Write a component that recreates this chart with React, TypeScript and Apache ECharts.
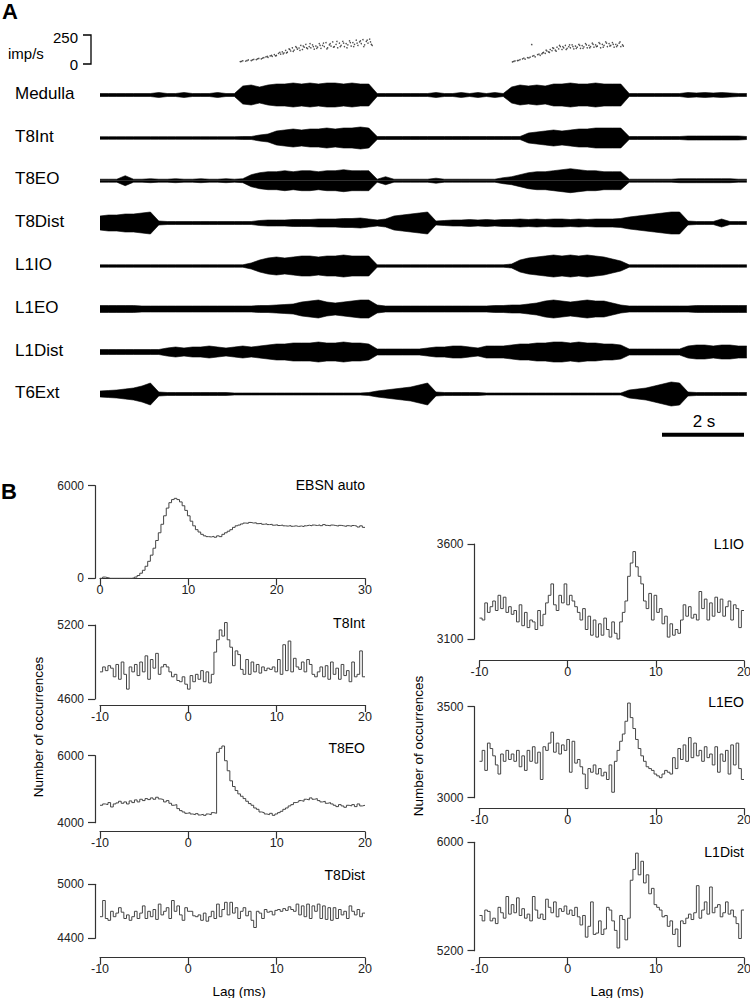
import React, { useEffect, useRef } from "react";
import * as echarts from "echarts";

const FONT = "'Liberation Sans', Arial, Helvetica, sans-serif";

// ---------- Panel A : raw traces (envelope amplitude, sampled every 0.2 s) ----------
const TRACE_STEP_S = 0.2;
const TRACE_NAMES = ["Medulla", "T8Int", "T8EO", "T8Dist", "L1IO", "L1EO", "L1Dist", "T6Ext"];
const MEDULLA = [1.5,1.5,1.5,1.5,1.5,1.5,1.5,2.5,1.5,1.5,2.5,1.5,1.5,1.5,2.5,1.5,1.5, 9,10,8,10,11,11,12,11,12,11,12,12,11,12,11,11, 1.5,1.5,1.5,1.5,1.5,1.5,1.5,2.5,1.5,1.5,2.5,1.5,2.5,1.5,2.5,1.5, 8,10,9,10,9,11,11,12,11,11,12,11,11,11, 1.5,1.5,1.5,1.5,1.5,1.5,1.5,2.5,2,2.5,2,2.5,2,1.5,1.5];
const T8INT = [1.3,1.3,1.3,1.3,1.3,1.3,1.3,1.3,1.3,1.3,1.3,1.3,1.3,1.3,1.3,1.3,1.3, 1.5,1.5,3,4,7,8,9,8,9,9,10,9,10,10,11,10, 1.5,1.5,1.5,1.5,1.5,1.5,1.5,1.5,1.5,1.5,1.5,1.5,1.5,1.5,1.5,1.5,1.5,1.5, 5,6,7,8,7,8,9,9,10,10,10,10, 1.5,1.5,1.5,1.5,1.5,1.5,1.5,2,2,2,2,2,2,2,1.5];
const T8EO = [1.5,1.5,1.5,5,1.5,1.5,2,1.5,1.5,2,1.5,1.5,2,1.5,1.5,2,1.5, 2,6,8,9,9,10,9,10,10,9,10,10,11,10,10,10, 1.5,4,1.5,1.5,1.5,1.5,1.5,2.5,1.5,1.5,1.5,1.5,1.5,1.5,1.5,3, 4,6,8,9,9,10,11,12,11,10,10,9,9,9, 1.5,1.5,1.5,1.5,1.5,1.5,2,2,2,2,2,2,2,1.5,1.5];
const T8DIST = [7,8,8,9,9,10,11,2, 1.5,1.5,1.5,1.5,1.5,1.5,1.5,1.5,1.5,1.5,1.5, 2.5,3,3,3,3.5,3.5,3.5,4,4, 4,4.5,4.5,5,4, 3,4,7,8,9,10,11,2, 2.5,3,3,3.5,3,3.5,3,3.5,3.5,4,3.5,4,3.5,4,4,3.5,4,3.5,4,4,4,4.5, 6,7,8,9,10,11,11,2, 1.5,1.5,1.5,4,1.5,1.5,1.5];
const L1IO = [1.2,1.2,1.2,1.2,1.2,1.2,1.2,1.2,1.2,1.2,1.2,1.2,1.2,1.2,1.2,1.2,1.2,1.2, 3,6,8,9,8,9,10,10,9,10,10,11,10,10,10, 1.2,1.2,1.2,1.2,1.2,1.2,1.2,1.2,1.2,1.2,1.2,1.2,1.2,1.2,1.2,1.2, 2,6,8,9,10,11,10,11,10,11,10,9,7,5, 1.2,1.2,1.2,1.2,1.2,1.2,1.2,1.2,1.2,1.2,1.2,1.2,1.2,1.2,1.2];
const L1EO = [3.5,3.5,3.5,3.5,3.5,3, 3,3,3,3,3,3,3,3,3,3,3,3,3,3.5,3.5, 4,4.5,5,7,8,9,7,6,7,8,9, 9, 4, 3,3,3,3,3,3,3,3,3,3,3,3,3,3.5,3.5,4,4, 5,6,8,9,8,7,8,9,8,8,6, 4, 3,3,3,3,3,3,3,3,3.5,3.5,3.5,3.5,3.5,3.5,3.5];
const L1DIST = [2.5,2.5,2.5,2.5,2.5,2.5,2.5,2.5, 4,5,4,5,5,6,5,4,5,6,5,6, 7,8,8,9,9,9,10,9,9,10,9,9, 8, 3, 3,3,3,3,3,4, 5,5,6,6,5,4,6,6, 6,7,8,8,9,9,10,10,9,10,9,9,8,8, 7, 3, 3,3,3,3,3,3, 6,7,7,6,7,7,6,6];
const T6EXT = [3,3.5,4,5,6,8,11,2, 1.5,1.5,1.5,1.5,1.5,1.5,1.5,1.5, 1,1,1,1,1,1,1,1,1,1,1,1,1,1,1,1, 1.5, 3,4,5,6,7,9,11,2, 1.5,1.5,1.5,1.5,1.5, 1,1,1,1,1,1,1,1,1,1,1,1,1,1,1,1,1, 4,5,6,8,10,12,11,2, 1.5,1.5,1.5,1.5,1.5,1.5,1.5];
const TRACES = [MEDULLA, T8INT, T8EO, T8DIST, L1IO, L1EO, L1DIST, T6EXT];

// Medulla unit instantaneous rate (imp/s): [time s, rate]
const RATE_BURST1 = [[3.34,20],[3.37,22],[3.40,28],[3.47,25],[3.50,30],[3.53,35],[3.60,30],[3.63,35],[3.66,40],[3.72,38],[3.75,44],[3.78,48],[3.84,45],[3.87,50],[3.90,55],[3.95,62],[3.98,65],[4.00,58],[4.05,70],[4.08,75],[4.10,66],[4.15,80],[4.18,70],[4.20,74],[4.25,92],[4.28,100],[4.30,85],[4.34,105],[4.36,88],[4.38,96],[4.42,118],[4.44,95],[4.46,102],[4.50,130],[4.52,125],[4.54,112],[4.58,140],[4.60,108],[4.62,120],[4.66,150],[4.68,142],[4.70,128],[4.74,138],[4.76,118],[4.78,160],[4.82,125],[4.84,155],[4.86,145],[4.90,170],[4.92,140],[4.94,132],[4.98,150],[5.00,175],[5.02,140],[5.06,165],[5.08,150],[5.10,128],[5.14,155],[5.16,135],[5.18,145],[5.22,175],[5.24,160],[5.26,135],[5.30,160],[5.32,180],[5.34,150],[5.38,185],[5.40,130],[5.42,140],[5.46,165],[5.48,175],[5.50,155],[5.54,190],[5.56,145],[5.58,150],[5.62,170],[5.64,195],[5.66,140],[5.70,180],[5.72,150],[5.74,160],[5.78,195],[5.80,180],[5.82,150],[5.86,175],[5.88,140],[5.90,165],[5.94,200],[5.96,185],[5.98,155],[6.02,185],[6.04,150],[6.06,170],[6.10,205],[6.12,180],[6.14,160],[6.18,190],[6.20,200],[6.22,175],[6.26,210],[6.28,150],[6.30,165],[6.34,195],[6.36,205],[6.38,180],[6.42,215],[6.44,190],[6.46,170],[6.48,160]];
const RATE_BURST2 = [[9.82,18],[9.85,22],[9.88,26],[9.94,30],[9.97,32],[10.00,38],[10.06,45],[10.09,50],[10.12,42],[10.18,55],[10.21,52],[10.24,60],[10.28,168],[10.30,68],[10.33,72],[10.36,62],[10.42,80],[10.45,85],[10.48,75],[10.52,88],[10.54,95],[10.56,100],[10.60,92],[10.62,120],[10.64,112],[10.68,105],[10.70,100],[10.72,125],[10.76,115],[10.78,140],[10.80,135],[10.84,120],[10.86,110],[10.88,145],[10.92,130],[10.94,160],[10.96,150],[11.00,125],[11.02,150],[11.04,140],[11.08,160],[11.10,125],[11.12,135],[11.16,150],[11.18,165],[11.20,140],[11.24,165],[11.26,150],[11.28,130],[11.32,155],[11.34,135],[11.36,145],[11.40,170],[11.42,160],[11.44,135],[11.48,158],[11.50,135],[11.52,148],[11.56,175],[11.58,165],[11.60,140],[11.64,160],[11.66,140],[11.68,150],[11.72,180],[11.74,170],[11.76,145],[11.80,165],[11.82,150],[11.84,155],[11.88,185],[11.90,175],[11.92,140],[11.96,170],[11.98,145],[12.00,160],[12.04,190],[12.06,180],[12.08,150],[12.12,175],[12.14,155],[12.16,160],[12.20,185],[12.22,170],[12.24,145],[12.28,170],[12.30,150],[12.32,160],[12.36,180],[12.38,190],[12.40,150],[12.44,165],[12.46,155]];

// ---------- Panel B : correlation histograms (0.3 ms bins) ----------
const HIST_BIN_MS = 0.3;
const EBSN_AUTO = [0,80,40,0,0,0,0,0,0,0,0,0,30,80,180,330,520,780,1100,1500,1950,2450,2950,3500,4050,4550,4900,5100,5180,5100,4950,4700,4400,4050,3700,3400,3150,3000,2850,2750,2700,2680,2720,2660,2750,2700,2850,2950,3050,3150,3300,3400,3450,3520,3580,3560,3620,3580,3600,3540,3560,3500,3530,3480,3500,3440,3470,3420,3450,3400,3380,3420,3370,3400,3360,3390,3350,3400,3440,3400,3450,3420,3460,3410,3480,3430,3400,3450,3420,3380,3430,3400,3360,3410,3370,3420,3380,3320,3400,3300];
const T8INT_XC = [4820,4860,4830,4870,4850,4780,4880,4760,4900,4800, 4680,4860,4820,4880,4790,4900,4820,4950,4760,4920, 4850,4970,4800,4860,4880,4860,4820,4780,4800,4750, 4740,4780,4720,4680,4790,4740,4800,4760,4830,4740, 4820,4730,4800,4980,5080,5160,5110,5220,5080,5020, 4870,4990,4960,4840,4800,4920,4800,4900,4820,4880, 4810,4860,4830,4850,4840,4860,4820,4920,4800,5040, 4830,5070,4820,4930,4860,4840,4900,4820,4920,4880, 4800,4780,4820,4860,4780,4870,4760,4900,4800,4850, 4760,4880,4790,4830,4740,4900,4780,4800,4990,4780];
const T8EO_XC = [4520,4560,4540,4600,4470,4560,4590,4640,4580,4620, 4560,4650,4600,4680,4620,4700,4660,4720,4690,4740, 4700,4760,4710,4690,4620,4660,4580,4520,4540,4420, 4360,4320,4280,4300,4260,4240,4270,4230,4250,4220, 4260,4240,4300,4280,6100,6220,6290,5850,5550,5250, 5080,4960,4860,4790,4720,4640,4570,4520,4440,4400, 4320,4300,4260,4240,4280,4220,4260,4300,4340,4400, 4440,4500,4540,4600,4620,4660,4640,4700,4680,4740, 4700,4720,4660,4620,4640,4580,4600,4560,4520,4480, 4540,4500,4460,4520,4500,4540,4480,4560,4500,4520];
const T8DIST_XC = [4640,4820,4620,4600,4700,4640,4680,4740,4690,4620, 4660,4600,4640,4700,4620,4680,4760,4620,4700,4640, 4720,4610,4780,4660,4700,4740,4620,4820,4700,4760, 4660,4600,4740,4700,4700,4650,4640,4660,4600,4680, 4590,4640,4700,4620,4780,4640,4720,4800,4660,4800, 4680,4740,4620,4700,4740,4650,4700,4600,4520,4700, 4680,4620,4720,4690,4700,4660,4710,4720,4700,4730, 4710,4750,4720,4700,4780,4660,4760,4640,4780,4620, 4760,4700,4780,4620,4760,4610,4740,4600,4740,4620, 4720,4660,4700,4620,4760,4700,4660,4720,4640,4680];
const L1IO_XC = [3210,3200,3290,3240,3270,3300,3250,3330,3260,3320, 3240,3270,3230,3250,3190,3280,3170,3240,3160,3200, 3190,3150,3250,3170,3230,3290,3330,3390,3280,3250, 3330,3290,3390,3280,3330,3300,3270,3240,3200,3260, 3150,3220,3120,3200,3110,3180,3120,3210,3150,3110, 3190,3130,3100,3190,3240,3300,3430,3500,3560,3480, 3430,3390,3300,3260,3340,3200,3330,3240,3260,3180, 3220,3110,3180,3120,3150,3130,3200,3280,3220,3270, 3210,3230,3200,3350,3260,3310,3200,3290,3220,3320, 3240,3310,3220,3270,3300,3200,3280,3260,3160,3250];
const L1EO_XC = [3200,3260,3150,3300,3270,3230,3180,3130,3240,3200, 3260,3210,3240,3200,3260,3170,3230,3150,3260,3200, 3280,3190,3250,3100,3280,3260,3300,3360,3250,3300, 3240,3290,3260,3320,3140,3310,3190,3210,3170,3130, 3050,3160,3140,3180,3130,3160,3120,3140,3100,3180, 3030,3200,3260,3310,3350,3420,3520,3440,3380,3320, 3270,3230,3200,3170,3160,3150,3130,3120,3110,3130, 3150,3140,3130,3220,3160,3270,3210,3290,3200,3330, 3220,3300,3230,3260,3200,3280,3220,3240,3180,3280, 3140,3240,3200,3260,3130,3290,3180,3300,3160,3100];
const L1DIST_XC = [5460,5420,5500,5490,5420,5440,5400,5520,5480,5440, 5600,5470,5540,5480,5590,5460,5510,5440,5470,5420, 5600,5500,5440,5470,5430,5580,5520,5480,5560,5450, 5510,5490,5530,5470,5500,5460,5520,5450,5390,5460, 5300,5380,5560,5320,5330,5420,5320,5360,5520,5500, 5420,5350,5220,5460,5430,5280,5440,5720,5800,5920, 5760,5860,5700,5760,5620,5660,5540,5520,5500,5450, 5460,5380,5420,5320,5360,5230,5420,5400,5440,5470, 5430,5480,5680,5440,5500,5560,5470,5670,5480,5520, 5540,5450,5480,5560,5470,5500,5450,5400,5290,5500];

const HISTS = [
  { name: "EBSN auto", data: EBSN_AUTO, xMin: 0, xMax: 30, yMin: 0, yMax: 6000 },
  { name: "T8Int", data: T8INT_XC, xMin: -10, xMax: 20, yMin: 4600, yMax: 5200 },
  { name: "T8EO", data: T8EO_XC, xMin: -10, xMax: 20, yMin: 4000, yMax: 6000 },
  { name: "T8Dist", data: T8DIST_XC, xMin: -10, xMax: 20, yMin: 4400, yMax: 5000 },
  { name: "L1IO", data: L1IO_XC, xMin: -10, xMax: 20, yMin: 3100, yMax: 3600 },
  { name: "L1EO", data: L1EO_XC, xMin: -10, xMax: 20, yMin: 3000, yMax: 3500 },
  { name: "L1Dist", data: L1DIST_XC, xMin: -10, xMax: 20, yMin: 5200, yMax: 6000 },
];

// ---------- layout (pixels) ----------
const TRACE_LEFT = 100;
const TRACE_PX_PER_S = 42;
const TRACE_T_MAX = 15.4;
const TRACE_Y = [95, 138, 180.7, 223, 266, 309, 352, 394];
const HIST_LAYOUT = [
  { left: 100, width: 265, top: 485.7, height: 92.6, xOff: 0, titleY: 485 },
  { left: 100, width: 265, top: 625, height: 74, xOff: 6, titleY: 622.5 },
  { left: 100, width: 265, top: 755.7, height: 67, xOff: 9, titleY: 747.5 },
  { left: 100, width: 265, top: 884.3, height: 54, xOff: 19.4, titleY: 875 },
  { left: 479.5, width: 264.5, top: 544, height: 95, xOff: 21.7, titleY: 544 },
  { left: 479.5, width: 264.5, top: 706.7, height: 91, xOff: 10.6, titleY: 702 },
  { left: 479.5, width: 264.5, top: 842.3, height: 108.4, xOff: 7, titleY: 851.5 },
];

function txt(text: string, x: number, y: number, size: number, align = "left", bold = false, rotation = 0) {
  return {
    type: "text",
    x,
    y,
    rotation,
    silent: true,
    style: {
      text,
      fill: "#000",
      font: `${bold ? "bold " : ""}${size}px ${FONT}`,
      textAlign: align,
      textVerticalAlign: "middle",
      align,
      verticalAlign: "middle",
    },
  };
}

const plain = (v: number) => String(v);

function buildOption() {
  const grid: any[] = [];
  const xAxis: any[] = [];
  const yAxis: any[] = [];
  const series: any[] = [];
  const traceWidth = TRACE_PX_PER_S * TRACE_T_MAX;

  // rate dots grid
  grid.push({ left: TRACE_LEFT, top: 35, width: traceWidth, height: 29, containLabel: false, outerBoundsMode: "none" });
  xAxis.push({ type: "value", gridIndex: 0, min: 0, max: TRACE_T_MAX, show: false });
  yAxis.push({ type: "value", gridIndex: 0, min: 0, max: 250, show: false });
  series.push({
    type: "scatter",
    xAxisIndex: 0,
    yAxisIndex: 0,
    data: [...RATE_BURST1, ...RATE_BURST2],
    symbol: "circle",
    symbolSize: 1.5,
    itemStyle: { color: "#222" },
    silent: true,
  });

  // traces
  TRACES.forEach((amp, j) => {
    const gi = grid.length;
    grid.push({ left: TRACE_LEFT, top: TRACE_Y[j] - 20, width: traceWidth, height: 40, containLabel: false, outerBoundsMode: "none" });
    xAxis.push({ type: "value", gridIndex: gi, min: 0, max: TRACE_T_MAX, show: false });
    yAxis.push({ type: "value", gridIndex: gi, min: -20, max: 20, show: false });
    const up = amp.map((a, i) => [i * TRACE_STEP_S, a]);
    const dn = amp.map((a, i) => [i * TRACE_STEP_S, -a]);
    [up, dn].forEach((d) =>
      series.push({
        type: "line",
        xAxisIndex: gi,
        yAxisIndex: gi,
        data: d,
        symbol: "none",
        silent: true,
        lineStyle: { color: "#000", width: 0.6 },
        areaStyle: { color: "#000", opacity: 1, origin: "auto" },
      })
    );
  });

  // histograms
  HISTS.forEach((h, k) => {
    const L = HIST_LAYOUT[k];
    const gi = grid.length;
    grid.push({ left: L.left, top: L.top, width: L.width, height: L.height, containLabel: false, outerBoundsMode: "none" });
    xAxis.push({
      type: "value",
      gridIndex: gi,
      min: h.xMin,
      max: h.xMax,
      interval: 10,
      offset: L.xOff,
      axisLine: { show: true, onZero: false, lineStyle: { color: "#333", width: 1.2 } },
      axisTick: { show: true, length: 7, lineStyle: { color: "#333", width: 1.2 } },
      axisLabel: { show: true, fontSize: 12.5, fontFamily: FONT, color: "#222", margin: 5, showMinLabel: true, showMaxLabel: true, formatter: plain },
      splitLine: { show: false },
    });
    yAxis.push({
      type: "value",
      gridIndex: gi,
      min: h.yMin,
      max: h.yMax,
      offset: 5,
      axisLine: { show: true, onZero: false, lineStyle: { color: "#333", width: 1.2 } },
      axisTick: { show: true, length: 7, customValues: [h.yMin, h.yMax], lineStyle: { color: "#333", width: 1.2 } },
      axisLabel: { show: true, fontSize: 12, fontFamily: FONT, color: "#222", margin: 11, customValues: [h.yMin, h.yMax], formatter: plain },
      splitLine: { show: false },
    });
    const pts = h.data.map((v, i) => [h.xMin + i * HIST_BIN_MS, v]);
    pts.push([h.xMin + h.data.length * HIST_BIN_MS, h.data[h.data.length - 1]]);
    series.push({
      type: "line",
      xAxisIndex: gi,
      yAxisIndex: gi,
      data: pts,
      step: "end",
      symbol: "none",
      clip: false,
      silent: true,
      lineStyle: { color: "#444", width: 1 },
    });
  });

  const graphic: any[] = [
    txt("A", 2, 11, 22, "left", true),
    txt("imp/s", 8, 53, 15),
    txt("250", 78, 37.5, 15, "right"),
    txt("0", 78, 64, 15, "right"),
    {
      type: "polyline",
      silent: true,
      shape: { points: [[83, 35], [91, 35], [91, 64], [83, 64]] },
      style: { stroke: "#000", lineWidth: 1.3, fill: null },
    },
    ...TRACE_NAMES.map((n, j) => txt(n, 15, TRACE_Y[j] - 2, 17)),
    txt("2 s", 704, 421, 17, "center"),
    {
      type: "line",
      silent: true,
      shape: { x1: 662, y1: 434.7, x2: 744, y2: 434.7 },
      style: { stroke: "#000", lineWidth: 4 },
    },
    txt("B", 1, 491.5, 22, "left", true),
    ...HISTS.map((h, k) => txt(h.name, HIST_LAYOUT[k].left + HIST_LAYOUT[k].width, HIST_LAYOUT[k].titleY, 14, "right")),
    txt("Number of occurrences", 38, 727, 13.5, "center", false, Math.PI / 2),
    txt("Number of occurrences", 418, 746, 13.5, "center", false, Math.PI / 2),
    txt("Lag (ms)", 239, 991, 13.5, "center"),
    txt("Lag (ms)", 617, 991.5, 13.5, "center"),
  ];

  return {
    animation: false,
    backgroundColor: "#fff",
    grid,
    xAxis,
    yAxis,
    series,
    graphic,
  };
}

export default function App() {
  const ref = useRef<HTMLDivElement>(null);
  useEffect(() => {
    document.body.style.margin = "0";
    const chart = echarts.init(ref.current!, null, { renderer: "svg" });
    chart.setOption(buildOption() as any);
    return () => chart.dispose();
  }, []);
  return <div ref={ref} style={{ width: 750, height: 998 }} />;
}
